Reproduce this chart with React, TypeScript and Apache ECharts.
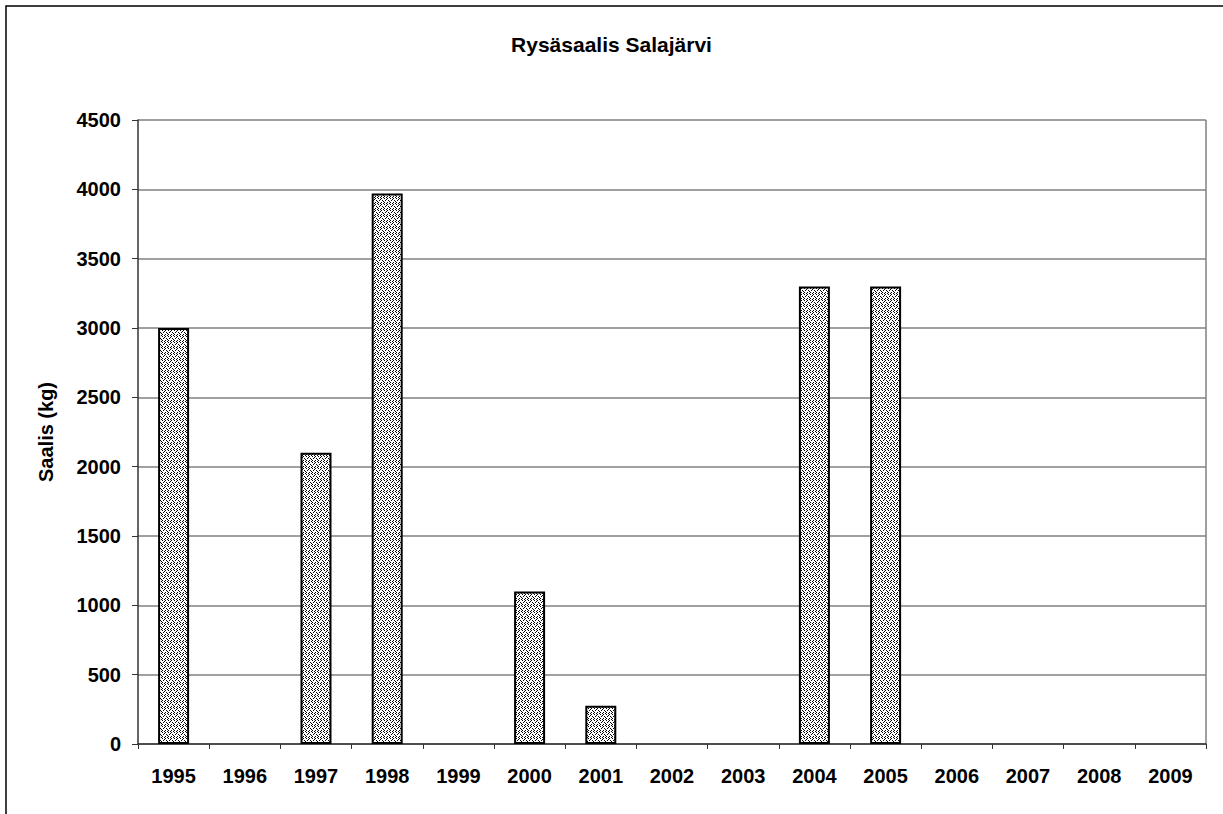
import React, { useEffect, useRef } from "react";
import * as echarts from "echarts";

const title = "Rysäsaalis Salajärvi";
const yAxisName = "Saalis (kg)";
const years = ["1995","1996","1997","1998","1999","2000","2001","2002","2003","2004","2005","2006","2007","2008","2009"];
const catch_kg = [3000, 0, 2100, 3970, 0, 1100, 275, 0, 0, 3300, 3300, 0, 0, 0, 0];
const yMin = 0;
const yMax = 4500;
const yStep = 500;

function makePattern(): HTMLCanvasElement {
  const c = document.createElement("canvas");
  c.width = 6;
  c.height = 6;
  const ctx = c.getContext("2d")!;
  ctx.fillStyle = "#ffffff";
  ctx.fillRect(0, 0, 6, 6);
  ctx.fillStyle = "#000000";
  const dots = [[0,0],[3,0],[1,2],[4,2],[0,4],[3,4],[2,1],[5,3],[2,5],[5,5]];
  dots.forEach(([x, y]) => ctx.fillRect(x, y, 1, 1));
  return c;
}

export default function App() {
  const ref = useRef<HTMLDivElement>(null);
  useEffect(() => {
    if (!ref.current) return;
    const chart = echarts.init(ref.current, null, { renderer: "svg" });
    const pattern = makePattern();
    const font = "'Liberation Sans', Arial, sans-serif";
    const seriesData = catch_kg.map((v) =>
      v === 0 ? { value: v, itemStyle: { borderWidth: 0, opacity: 0 } } : { value: v }
    );
    chart.setOption({
      animation: false,
      backgroundColor: "#ffffff",
      title: {
        text: title,
        left: "center",
        top: 29,
        textStyle: { fontFamily: font, fontWeight: "bold", fontSize: 21, color: "#000" },
      },
      graphic: [
        {
          type: "rect",
          shape: { x: 6, y: 6, width: 1240, height: 840 },
          style: { fill: "none", stroke: "#000", lineWidth: 1.5 },
          silent: true,
        },
        {
          type: "line",
          shape: { x1: 1206, y1: 120, x2: 1206, y2: 744 },
          style: { stroke: "#808080", lineWidth: 1.5 },
          silent: true,
        },
      ],
      grid: { left: 138, right: 17, top: 120, bottom: 70, containLabel: false },
      xAxis: {
        type: "category",
        data: years,
        boundaryGap: true,
        axisLine: { lineStyle: { color: "#333", width: 1.5 } },
        axisTick: { show: true, alignWithLabel: false, length: 5, lineStyle: { color: "#333" } },
        axisLabel: { fontFamily: font, fontWeight: "bold", fontSize: 20, color: "#000", margin: 22, interval: 0 },
      },
      yAxis: {
        type: "value",
        min: yMin,
        max: yMax,
        interval: yStep,
        name: yAxisName,
        nameLocation: "middle",
        nameGap: 82,
        nameTextStyle: { fontFamily: font, fontWeight: "bold", fontSize: 20, color: "#000" },
        axisLine: { show: true, lineStyle: { color: "#333", width: 1.5 } },
        axisTick: { show: true, inside: false, length: 6, lineStyle: { color: "#333" } },
        axisLabel: {
          fontFamily: font,
          fontWeight: "bold",
          fontSize: 20,
          color: "#000",
          margin: 17,
          formatter: (v: number) => String(v),
        },
        splitLine: { show: true, lineStyle: { color: "#808080", width: 1.5 } },
      },
      series: [
        {
          type: "bar",
          data: seriesData,
          barWidth: 31,
          itemStyle: {
            color: { image: pattern, repeat: "repeat" },
            borderColor: "#000",
            borderWidth: 2,
          },
        },
      ],
    });
    return () => chart.dispose();
  }, []);
  return (
    <div
      ref={ref}
      style={{ position: "fixed", left: 0, top: 0, width: 1223, height: 814 }}
    />
  );
}
